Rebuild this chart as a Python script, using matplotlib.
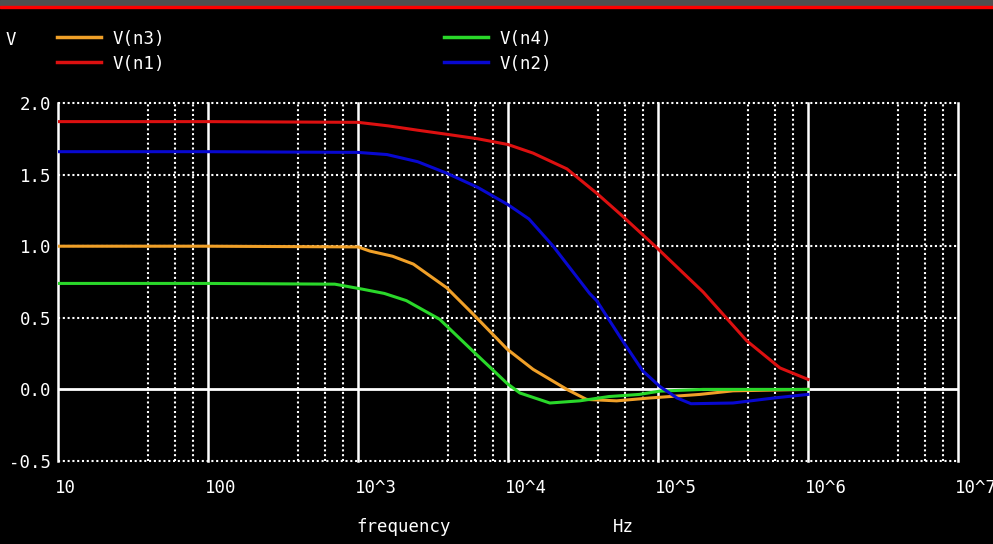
import matplotlib.pyplot as plt
import matplotlib.transforms as mtransforms
from matplotlib.lines import Line2D
from matplotlib.patches import Rectangle

# values (frequency in Hz, voltage in V)
freq_n1 = [10, 100, 1000, 1600, 2500, 4000, 6300, 10000, 14700, 24700, 39000,
           58000, 98000, 200000, 390000, 650000, 1000000]
v_n1 = [1.87, 1.87, 1.865, 1.84, 1.81, 1.78, 1.75, 1.71, 1.65, 1.54, 1.37,
        1.21, 0.99, 0.68, 0.34, 0.15, 0.07]

freq_n2 = [10, 100, 1000, 1560, 2500, 3900, 6300, 10000, 13800, 20000, 35000,
           39000, 58000, 79000, 103000, 134000, 166000, 316000, 593000, 1000000]
v_n2 = [1.66, 1.66, 1.655, 1.64, 1.59, 1.51, 1.41, 1.29, 1.19, 1.0, 0.67,
        0.62, 0.34, 0.13, 0.02, -0.06, -0.10, -0.095, -0.06, -0.035]

freq_n3 = [10, 100, 1000, 1200, 1700, 2340, 3900, 5800, 9900, 14700, 24700,
           33400, 53000, 88000, 190000, 316000, 1000000]
v_n3 = [1.0, 1.0, 0.995, 0.966, 0.93, 0.875, 0.71, 0.53, 0.28, 0.14, 0.0,
        -0.07, -0.08, -0.06, -0.035, -0.01, 0.0]

freq_n4 = [10, 100, 700, 1070, 1500, 2100, 3500, 5800, 9900, 12000, 19000,
           30000, 47000, 75000, 103000, 200000, 1000000]
v_n4 = [0.74, 0.74, 0.735, 0.70, 0.67, 0.62, 0.49, 0.27, 0.04, -0.025, -0.095,
        -0.08, -0.05, -0.035, -0.012, 0.0, 0.0]

decades = [10, 100, 1000, 10000, 100000, 1000000, 10000000]
decade_labels = ["10", "100", "10^3", "10^4", "10^5", "10^6", "10^7"]
minor_steps = [4, 6, 8]
y_ticks = [-0.5, 0.0, 0.5, 1.0, 1.5, 2.0]
y_labels = ["-0.5", "0.0", "0.5", "1.0", "1.5", "2.0"]

C_N1 = "#dc1010"
C_N2 = "#0808d0"
C_N3 = "#f0a028"
C_N4 = "#2ad82a"
FONT = "DejaVu Sans Mono"
FS = 12.5


def main():
    fig = plt.figure(figsize=(9.93, 5.44), dpi=100, facecolor="black")
    ax = fig.add_axes([58 / 993, 1 - 461 / 544, 900 / 993, 358 / 544])
    ax.set_facecolor("black")
    ax.set_xscale("log")
    ax.set_xlim(10, 1e7)
    ax.set_ylim(-0.5, 2.0)
    for s in ax.spines.values():
        s.set_visible(False)

    dots = (0, (1, 1.3))
    # minor vertical grid
    for d in decades[:-1]:
        for m in minor_steps:
            ax.axvline(d * m, color="white", lw=1.5, ls=dots, zorder=1)
    # horizontal grid
    for y in y_ticks:
        if y == 0.0:
            ax.axhline(y, color="white", lw=2, zorder=1)
        else:
            ax.axhline(y, color="white", lw=1.5, ls=dots, zorder=1, clip_on=False)
    # decade lines
    for d in decades:
        ax.axvline(d, color="white", lw=1.8, zorder=1, clip_on=False)

    ax.plot(freq_n3, v_n3, color=C_N3, lw=2.2, zorder=3)
    ax.plot(freq_n1, v_n1, color=C_N1, lw=2.2, zorder=3)
    ax.plot(freq_n4, v_n4, color=C_N4, lw=2.2, zorder=3)
    ax.plot(freq_n2, v_n2, color=C_N2, lw=2.2, zorder=3)

    ax.set_xticks(decades)
    ax.set_xticklabels(decade_labels)
    ax.xaxis.set_minor_locator(plt.NullLocator())
    ax.set_yticks(y_ticks)
    ax.set_yticklabels(y_labels)
    ax.tick_params(axis="x", length=0, pad=13, colors="white", labelsize=FS)
    ax.tick_params(axis="y", length=0, pad=5, colors="white", labelsize=FS)
    shift = mtransforms.ScaledTranslation(-3 / 100, 0, fig.dpi_scale_trans)
    for lab in ax.get_xticklabels():
        lab.set_ha("left")
        lab.set_family(FONT)
        lab.set_transform(lab.get_transform() + shift)
    for lab in ax.get_yticklabels():
        lab.set_family(FONT)

    fig.text(404 / 993, 1 - 527 / 544, "frequency", color="white", fontsize=FS,
             family=FONT, ha="center", va="center")
    fig.text(623 / 993, 1 - 527 / 544, "Hz", color="white", fontsize=FS,
             family=FONT, ha="center", va="center")
    fig.text(6 / 993, 1 - 40 / 544, "V", color="white", fontsize=FS,
             family=FONT, ha="left", va="center")

    legend = [
        (57, 37, C_N3, "V(n3)"),
        (57, 62, C_N1, "V(n1)"),
        (444, 37, C_N4, "V(n4)"),
        (444, 62, C_N2, "V(n2)"),
    ]
    for x0, y0, c, name in legend:
        fig.add_artist(Line2D([x0 / 993, (x0 + 44) / 993],
                              [1 - y0 / 544, 1 - y0 / 544],
                              color=c, lw=2.5, transform=fig.transFigure))
        fig.text((x0 + 56) / 993, 1 - (y0 + 2) / 544, name, color="white",
                 fontsize=FS, family=FONT, ha="left", va="center")

    # window strip at the top
    fig.add_artist(Rectangle((0, 1 - 6 / 544), 1, 6 / 544, color="#505050",
                             transform=fig.transFigure))
    fig.add_artist(Rectangle((0, 1 - 8 / 544), 1, 2 / 544, color="#ff0000",
                             transform=fig.transFigure))

    fig.savefig("out.png", dpi=100, facecolor="black")


if __name__ == "__main__":
    main()
